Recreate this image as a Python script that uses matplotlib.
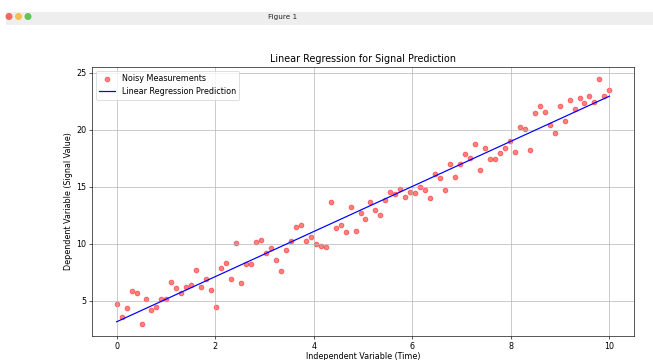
import numpy as np
import matplotlib
matplotlib.use("Agg")
import matplotlib.pyplot as plt
from matplotlib.patches import Rectangle, Ellipse

t_start, t_stop, n_pts = 0, 10, 100
signal = [4.72, 3.55, 4.34, 5.83, 5.66, 3.00, 5.13, 4.23, 4.49, 5.19,
          5.13, 6.65, 6.16, 5.72, 6.25, 6.36, 7.70, 6.21, 6.95, 5.95,
          4.43, 7.88, 8.30, 6.88, 10.11, 6.56, 8.28, 8.22, 10.20, 10.31,
          9.21, 9.65, 8.57, 7.66, 9.50, 10.22, 11.48, 11.68, 10.28, 10.57,
          10.00, 9.85, 9.76, 13.66, 11.36, 11.62, 11.04, 13.25, 11.10, 12.67,
          12.20, 13.69, 12.99, 12.53, 13.89, 14.56, 14.39, 14.83, 14.10, 14.56,
          14.48, 14.97, 14.74, 14.01, 16.14, 15.76, 14.71, 17.01, 15.85, 17.01,
          17.91, 17.51, 18.73, 16.51, 18.38, 17.47, 17.47, 18.00, 18.43, 19.04,
          18.03, 20.27, 20.07, 18.23, 21.49, 22.10, 21.58, 20.42, 19.72, 22.05,
          20.79, 22.62, 21.81, 22.77, 22.36, 22.92, 22.42, 24.43, 22.95, 23.45]

time = np.linspace(t_start, t_stop, n_pts)
y = np.array(signal)

# fit a straight line
slope, intercept = np.polyfit(time, y, 1)
y_pred = slope * time + intercept

dpi = 58
fig = plt.figure(figsize=(653 / dpi, 360 / dpi), dpi=dpi)
ax = fig.add_axes([92 / 653, 1 - 336 / 360, (634 - 92) / 653, (336 - 67) / 360])

ax.scatter(time, y, color='red', alpha=0.5, label='Noisy Measurements')
ax.plot(time, y_pred, color='blue', label='Linear Regression Prediction')

ax.set_title('Linear Regression for Signal Prediction')
ax.set_xlabel('Independent Variable (Time)', labelpad=2)
ax.set_ylabel('Dependent Variable (Signal Value)')
ax.legend(loc='upper left')
ax.grid(True)

# window title bar like the screenshot
fig.add_artist(Rectangle((6 / 653, 1 - 25 / 360), 1, 13 / 360, transform=fig.transFigure,
                         facecolor='#eeeeee', edgecolor='none'))
for cx, col in zip([9, 18.5, 28], ['#ec6a5e', '#f4bf4f', '#61c554']):
    fig.add_artist(Ellipse((cx / 653, 1 - 16.5 / 360), 7 / 653, 7 / 360, transform=fig.transFigure,
                           facecolor=col, edgecolor='none'))
fig.text(283 / 653, 1 - 16.5 / 360, 'Figure 1', ha='center', va='center', fontsize=9, color='#222222')

fig.savefig('out.png', dpi=dpi)
